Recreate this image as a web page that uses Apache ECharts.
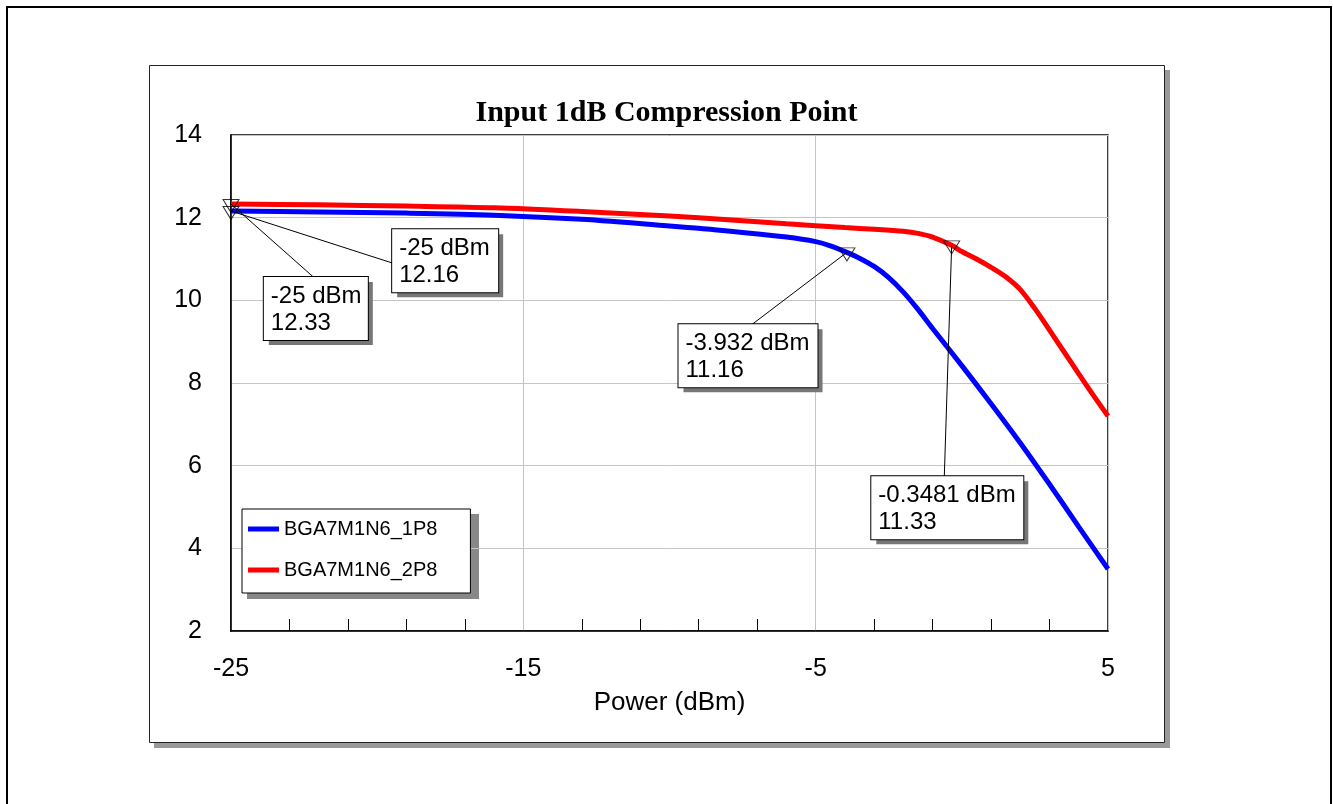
<!DOCTYPE html>
<html>
<head>
<meta charset="utf-8">
<title>Input 1dB Compression Point</title>
<script src="https://cdn.jsdelivr.net/npm/echarts@6/dist/echarts.min.js"></script>
<style>
  html, body { margin: 0; padding: 0; background: #fff; }
  #main { width: 1333px; height: 804px; }
</style>
</head>
<body>
<div id="main"></div>
<script>
// curve data (power in dBm, gain in dB)
var power1 = [-25, -22, -19, -16, -13, -10, -8, -6, -5, -4.5, -3.932, -3.5, -3, -2.5, -2, -1.5, -1, 0, 1, 2, 3, 4, 5];
var gain1  = [12.16, 12.14, 12.11, 12.06, 11.96, 11.80, 11.68, 11.53, 11.42, 11.32, 11.16, 11.02, 10.82, 10.55, 10.2, 9.78, 9.32, 8.42, 7.5, 6.55, 5.55, 4.52, 3.5];

var power2 = [-25, -22, -19, -16, -13, -10, -8, -6, -4, -3, -2, -1.5, -1, -0.3481, 0, 0.5, 1, 1.5, 2, 2.5, 3, 3.5, 4, 4.5, 5];
var gain2  = [12.33, 12.31, 12.28, 12.24, 12.15, 12.04, 11.95, 11.85, 11.76, 11.72, 11.67, 11.62, 11.53, 11.33, 11.18, 11.0, 10.8, 10.57, 10.26, 9.8, 9.28, 8.75, 8.22, 7.7, 7.2];

var seriesNames = ['BGA7M1N6_1P8', 'BGA7M1N6_2P8'];

// marker readouts
var markerPower1 = [-25, -3.932];
var markerGain1  = [12.16, 11.16];
var markerPower2 = [-25, -0.3481];
var markerGain2  = [12.33, 11.33];

var FONT = '"Liberation Sans", Arial, sans-serif';

function pairs(xs, ys) {
  return xs.map(function (x, i) { return [x, ys[i]]; });
}

// where each readout box sits (top-left) and where its leader line ends, in axis units
var boxes = [
  { power: markerPower1, gain: markerGain1, i: 0, box: [-19.47, 11.71], lead: [-19.47, 10.90], w: 91 },
  { power: markerPower2, gain: markerGain2, i: 0, box: [-23.86, 10.55], lead: [-22.16, 10.55], w: 89 },
  { power: markerPower1, gain: markerGain1, i: 1, box: [-9.675, 9.41], lead: [-7.19, 9.41], w: 124 },
  { power: markerPower2, gain: markerGain2, i: 1, box: [-3.08, 5.73], lead: [-0.60, 5.73], w: 137 }
];

var leaderLines = boxes.map(function (b) {
  return [
    { coord: [b.power[b.i], b.gain[b.i]] },
    { coord: b.lead }
  ];
});

function readoutText(b) {
  return b.power[b.i] + ' dBm\n' + b.gain[b.i];
}

// grey drop shadows first, then the white boxes on top
var readoutShadows = boxes.map(function (b) {
  return {
    coord: b.box,
    label: {
      formatter: readoutText(b),
      width: b.w,
      offset: [5, 5],
      color: 'rgba(0,0,0,0)',
      backgroundColor: '#777',
      borderWidth: 0
    }
  };
});
var readouts = boxes.map(function (b) {
  return {
    coord: b.box,
    label: { formatter: readoutText(b), width: b.w }
  };
});

var chart = echarts.init(document.getElementById('main'));

var option = {
  animation: false,
  backgroundColor: '#fff',
  title: {
    text: 'Input 1dB Compression Point',
    left: 'center',
    top: 93,
    textStyle: {
      fontFamily: '"Liberation Serif", "Times New Roman", serif',
      fontWeight: 'bold',
      fontSize: 30,
      color: '#000'
    }
  },
  graphic: [
    {
      type: 'rect', z: -30, silent: true,
      shape: { x: 7, y: 7, width: 1324, height: 810 },
      style: { fill: '#fff', stroke: '#000', lineWidth: 2 }
    },
    {
      type: 'rect', z: -20, silent: true,
      shape: { x: 154, y: 70, width: 1016, height: 678 },
      style: { fill: '#999' }
    },
    {
      type: 'rect', z: -10, silent: true,
      shape: { x: 149.5, y: 65.5, width: 1015, height: 677 },
      style: { fill: '#fff', stroke: '#222', lineWidth: 1 }
    },
    {
      // legend drop shadow
      type: 'rect', z: -5, silent: true,
      shape: { x: 247, y: 514, width: 232, height: 85 },
      style: { fill: '#888' }
    }
  ],
  legend: {
    data: seriesNames,
    orient: 'vertical',
    left: 242,
    top: 509,
    width: 200,
    icon: 'rect',
    itemWidth: 31,
    itemHeight: 5,
    itemGap: 21,
    padding: [10, 33, 13, 6],
    backgroundColor: '#fff',
    borderColor: '#000',
    borderWidth: 1,
    textStyle: { fontFamily: FONT, fontSize: 20, color: '#000' }
  },
  grid: {
    left: 231, right: 225, top: 135, bottom: 173,
    show: true, borderColor: '#000', borderWidth: 1.5,
    containLabel: false
  },
  xAxis: {
    type: 'value',
    min: -25, max: 5, interval: 10,
    name: 'Power (dBm)',
    nameLocation: 'middle',
    nameGap: 59,
    nameTextStyle: { fontFamily: FONT, fontSize: 26, color: '#000' },
    axisLine: { onZero: false, lineStyle: { color: '#000', width: 1.5 } },
    axisTick: { show: false, inside: true },
    minorTick: { show: true, splitNumber: 5, length: 12, lineStyle: { color: '#000', width: 1 } },
    axisLabel: { fontFamily: FONT, fontSize: 25, color: '#000', margin: 26 },
    splitLine: { show: true, lineStyle: { color: '#c4c4c4', width: 1 } }
  },
  yAxis: {
    type: 'value',
    min: 2, max: 14, interval: 2,
    axisLine: { show: true, onZero: false, lineStyle: { color: '#000', width: 1.5 } },
    axisTick: { show: false },
    axisLabel: { fontFamily: FONT, fontSize: 25, color: '#000', margin: 29 },
    splitLine: { show: true, lineStyle: { color: '#c4c4c4', width: 1 } }
  },
  series: [
    {
      name: seriesNames[0],
      type: 'line',
      data: pairs(power1, gain1),
      smooth: 0.3,
      showSymbol: false,
      color: '#0000ff',
      lineStyle: { width: 5, color: '#0000ff' },
      z: 3
    },
    {
      name: seriesNames[1],
      type: 'line',
      data: pairs(power2, gain2),
      smooth: 0.3,
      showSymbol: false,
      color: '#ff0000',
      lineStyle: { width: 5, color: '#ff0000' },
      z: 3
    },
    {
      name: 'markers',
      type: 'scatter',
      data: pairs(markerPower1, markerGain1).concat(pairs(markerPower2, markerGain2)),
      symbol: 'triangle',
      symbolRotate: 180,
      symbolSize: [16, 13],
      symbolOffset: [0, 2],
      itemStyle: { color: 'rgba(0,0,0,0)', borderColor: '#000', borderWidth: 1 },
      silent: true,
      z: 5,
      markLine: {
        silent: true,
        symbol: ['none', 'none'],
        label: { show: false },
        lineStyle: { color: '#000', width: 1, type: 'solid' },
        data: leaderLines
      },
      markPoint: {
        silent: true,
        symbol: 'rect',
        symbolSize: 1,
        itemStyle: { color: 'rgba(0,0,0,0)' },
        label: {
          show: true,
          position: [0, 0],
          align: 'left',
          verticalAlign: 'top',
          fontFamily: FONT,
          fontSize: 24,
          lineHeight: 27,
          color: '#000',
          backgroundColor: '#fff',
          borderColor: '#000',
          borderWidth: 1,
          padding: [6, 8, 3, 7]
        },
        data: readoutShadows.concat(readouts)
      }
    }
  ]
};

chart.setOption(option);
</script>
</body>
</html>
